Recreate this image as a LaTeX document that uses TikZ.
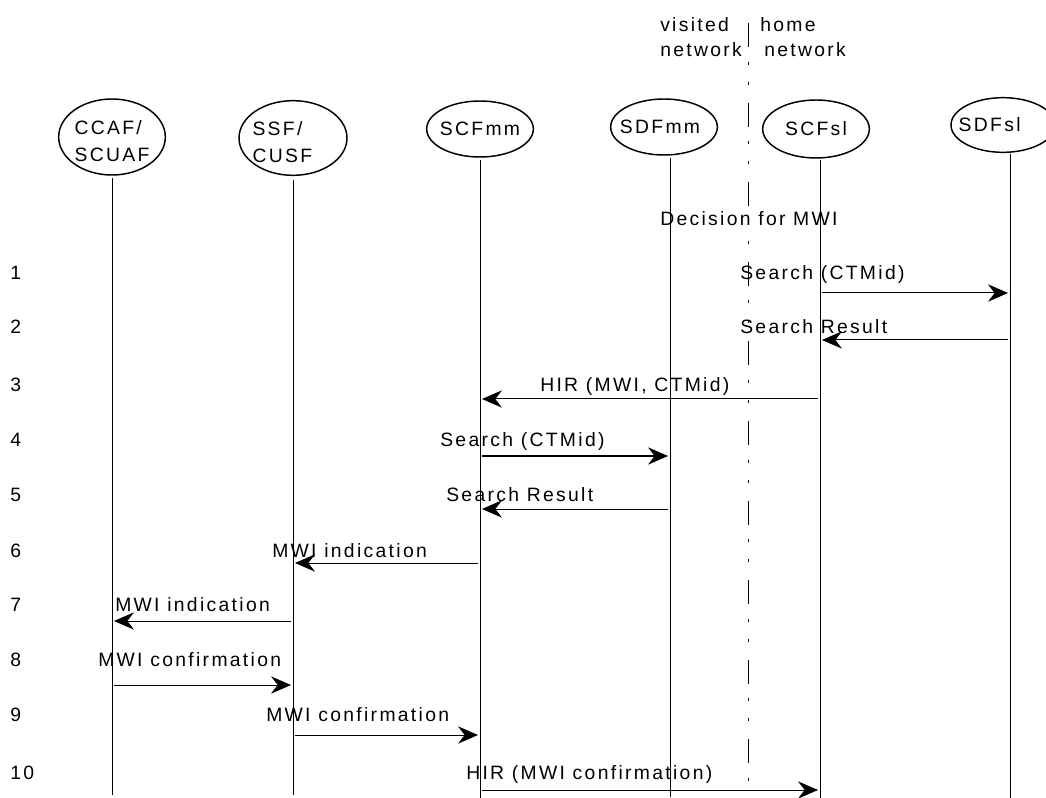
\documentclass[tikz,border=0pt]{standalone}
\usepackage{fontspec}
\setmainfont{Liberation Sans}[LetterSpace=12]
\usetikzlibrary{arrows.meta,shapes.geometric}
\newcommand{\seqfont}{\fontsize{14.5pt}{20pt}\selectfont}
\tikzset{
  actor/.style={draw,ellipse,line width=1.1pt,inner sep=0pt},
  life/.style={line width=0.7pt},
  msg/.style={line width=0.75pt,shorten >=1.5pt,shorten <=1.5pt,
    -{Stealth[length=15pt,width=13pt,inset=5pt]}},
  lbl/.style={anchor=base west,inner sep=0pt},
  divider/.style={line width=0.7pt,
    dash pattern=on 18pt off 11pt on 2.2pt off 12.8pt on 2.2pt off 13.5pt}
}
\begin{document}
\begin{tikzpicture}[x=0.75pt,y=-0.75pt,font=\seqfont,line cap=butt]
\useasboundingbox (0,0) rectangle (1046,798);
% entities
\node[actor,minimum width=80pt,minimum height=57pt,
  label={[align=left,yshift=-3pt]center:CCAF/\\SCUAF}] (ccaf) at (112,137) {};
\node[actor,minimum width=81pt,minimum height=56pt,
  label={[align=left,xshift=-8pt,yshift=-3pt]center:SSF/\\CUSF}] (ssf) at (293,138) {};
\node[actor,minimum width=80pt,minimum height=42pt,label=center:SCFmm] (scfmm) at (480,129) {};
\node[actor,minimum width=80pt,minimum height=42pt,label={[xshift=-3pt]center:SDFmm}] (sdfmm) at (664,127) {};
\node[actor,minimum width=80pt,minimum height=43.5pt,label=center:SCFsl] (scfsl) at (816,129) {};
\node[actor,minimum width=78pt,minimum height=41pt,label={[xshift=-10pt]center:SDFsl}] (sdfsl) at (1003,125) {};
% life lines
\foreach \n/\x/\t/\b in {ccaf/112/178/795,ssf/293/180/795,scfmm/480/160/798,
  sdfmm/670/158/797,scfsl/820/160/798,sdfsl/1010/154/798}{
  \coordinate (\n-t) at (\x,\t);
  \coordinate (\n-b) at (\x,\b);
  \draw[life] (\n-t) -- (\n-b);
}
% network border
\coordinate (div-t) at (748,23);
\coordinate (div-b) at (748,798);
\draw[divider] (div-t) -- (div-b);
\node[lbl] (vis1) at (660,32) {visited};
\node[lbl] (vis2) at (660,57) {network};
\node[lbl] (home1) at (760,32) {home};
\node[lbl] (home2) at (764,57) {network};
% step numbers
\foreach \i/\y in {1/280,2/334,3/392,4/446,5/501,6/557,7/611,8/666,9/721,10/779}
  \node[lbl] (n\i) at (10,\y) {\i};
% messages
\node[lbl] (dec) at (660,226) {Decision for MWI};
\node[lbl] (m1) at (740,280) {Search (CTMid)};
\draw[msg] (scfsl-t |- 0,293) -- (sdfsl-t |- 0,293);
\node[lbl] (m2) at (740,334) {Search Result};
\draw[msg] (sdfsl-t |- 0,340) -- (scfsl-t |- 0,340);
\node[lbl] (m3) at (540,392) {HIR (MWI, CTMid)};
\draw[msg] (scfsl-t |- 0,399) -- (scfmm-t |- 0,399);
\node[lbl] (m4) at (440,446) {Search (CTMid)};
\draw[msg] (scfmm-t |- 0,456) -- (sdfmm-t |- 0,456);
\node[lbl] (m5) at (446,501) {Search Result};
\draw[msg] (sdfmm-t |- 0,509) -- (scfmm-t |- 0,509);
\node[lbl] (m6) at (272,557) {MWI indication};
\draw[msg] (scfmm-t |- 0,563) -- (ssf-t |- 0,563);
\node[lbl] (m7) at (115,611) {MWI indication};
\draw[msg] (ssf-t |- 0,621) -- (ccaf-t |- 0,621);
\node[lbl] (m8) at (98,666) {MWI confirmation};
\draw[msg] (ccaf-t |- 0,685) -- (ssf-t |- 0,685);
\node[lbl] (m9) at (266,721) {MWI confirmation};
\draw[msg] (ssf-t |- 0,735) -- (scfmm-t |- 0,735);
\node[lbl] (m10) at (466,779) {HIR (MWI confirmation)};
\draw[msg] (scfmm-t |- 0,790) -- (scfsl-t |- 0,790);
\end{tikzpicture}
\end{document}
